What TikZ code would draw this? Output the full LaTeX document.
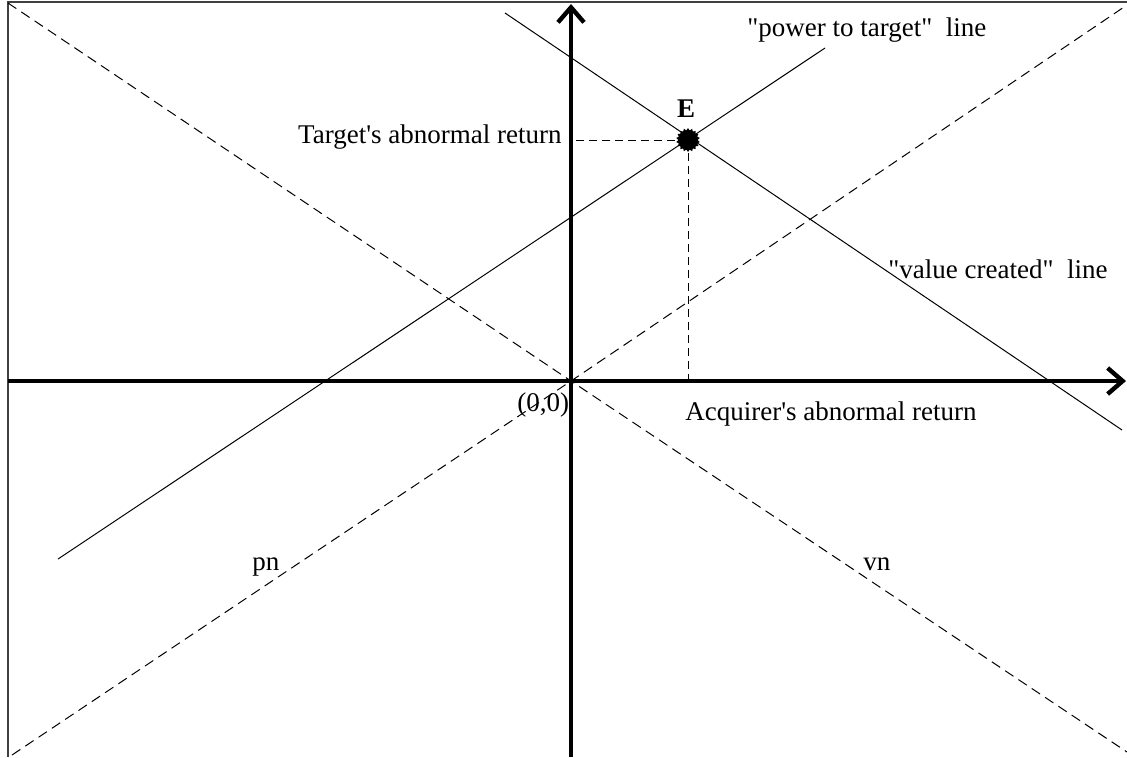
\documentclass[tikz,border=0pt]{standalone}
\usepackage{fontspec}
\setmainfont{Liberation Serif}[Ligatures=TeXOff]
\usetikzlibrary{arrows.meta,shapes.geometric}
\tikzset{
  axis/.style={line width=2pt,-{Straight Barb[length=7.5pt,width=13pt,line width=2.2pt]}},
  thinline/.style={line width=0.5pt},
  dashline/.style={line width=0.5pt,dash pattern=on 5pt off 3pt},
  guide/.style={line width=0.5pt,dash pattern=on 4pt off 2.5pt},
  lbl/.style={inner sep=0pt,font=\fontsize{13.5}{16}\selectfont},
  frame/.style={line width=0.8pt,black!75}
}
\begin{document}
\begin{tikzpicture}[x=0.5pt,y=-0.5pt]
\useasboundingbox (0,0) rectangle (1127,757);
% frame (left and top edges)
\coordinate (fbl) at (8,757);
\coordinate (ftl) at (8,2);
\coordinate (ftr) at (1127,2);
\draw[frame] (fbl) -- (ftl) -- (ftr);
% key points
\coordinate (O) at (571,381);
\coordinate (ytop) at (571,4);
\coordinate (ybot) at (571,757);
\coordinate (xleft) at (8,381);
\coordinate (xright) at (1126,381);
\coordinate (d1a) at (8,3);
\coordinate (d1b) at (1127,752);
\coordinate (d2a) at (12,755);
\coordinate (d2b) at (1127,5);
\coordinate (p1) at (58,559);
\coordinate (p2) at (825,48);
\coordinate (v1) at (505,13);
\coordinate (v2) at (1122,430);
\coordinate (E) at (688,140);
\coordinate (Ey) at (573,140);
\coordinate (Ex) at (688,381);
% dashed lines through origin
\draw[dashline] (d1a) -- (O) -- (d1b);
\draw[dashline] (d2a) -- (O) -- (d2b);
% power and value lines
\draw[thinline] (p1) -- (p2);
\draw[thinline] (v1) -- (v2);
% guides from E
\draw[guide] (E) -- (Ey);
\draw[guide] (E) -- (Ex);
% axes
\draw[axis] (xleft) -- (xright);
\draw[axis] (ybot) -- (ytop);
% point E
\node[star, star points=18, star point ratio=1.25, fill, draw=none, minimum size=12pt, inner sep=0pt] (Edot) at (E) {};
\fill (E) circle (5pt);
% labels
\node[lbl, anchor=base, font=\fontsize{13.5}{16}\selectfont\bfseries] (Elbl) at (686,117) {E};
\node[lbl, anchor=base east] (tgt) at (562,143) {Target's abnormal return};
\node[lbl, anchor=base west] (pow) at (747,36) {"power to target"\ \ line};
\node[lbl, anchor=base west] (val) at (888,278) {"value created"\ \ line};
\node[lbl, anchor=base west] (acq) at (685,420) {Acquirer's abnormal return};
\node[lbl, anchor=base west] (orig) at (517,411) {(0,0)};
\node[lbl, anchor=base west] (pn) at (252,570) {pn};
\node[lbl, anchor=base west] (vn) at (863,570) {vn};
\end{tikzpicture}
\end{document}
